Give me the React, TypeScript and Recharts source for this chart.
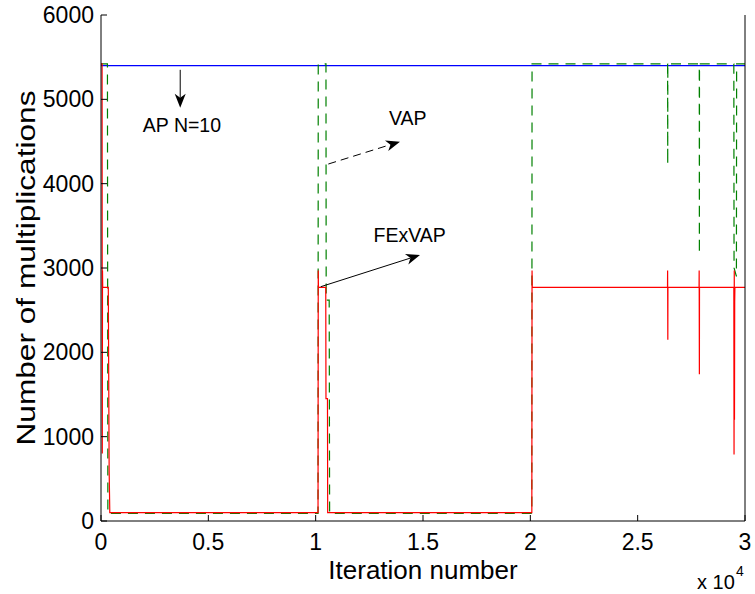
import React from 'react';
import { LineChart, Line, XAxis, YAxis, ReferenceLine, ReferenceDot } from 'recharts';

const FONT = '"Liberation Sans", Arial, Helvetica, sans-serif';

// change points of each curve: iteration number and multiplications per iteration
const apIter = [0, 30000];
const apMults = [5400, 5400];

const vapIter = [0, 300, 320, 10110, 10120, 10480, 10490, 10630, 10650, 20070, 20080, 26395, 26400, 26405, 27870, 27875, 27880, 29480, 29490, 29600, 29610, 30000];
const vapMults = [5420, 5420, 90, 90, 5420, 5420, 2620, 2620, 90, 90, 5420, 5420, 4230, 5420, 5420, 3170, 5420, 5420, 3000, 2900, 5420, 5420];

const fexIter = [0, 50, 60, 70, 80, 340, 380, 410, 10110, 10120, 10130, 10470, 10480, 10550, 10560, 20070, 20080, 20090, 26390, 26395, 26405, 26410, 27860, 27865, 27875, 27880, 29480, 29490, 29500, 29510, 29520, 29530, 30000];
const fexMults = [5420, 5420, 800, 2970, 2770, 2770, 600, 100, 100, 2970, 2770, 2770, 1450, 1450, 100, 100, 2970, 2770, 2770, 2970, 2150, 2770, 2770, 2970, 1740, 2770, 2770, 790, 2970, 1200, 2600, 2770, 2770];

const xTicks = [0, 5000, 10000, 15000, 20000, 25000, 30000];
const yTicks = [0, 1000, 2000, 3000, 4000, 5000, 6000];

// annotations (text + arrow), in data units
const noteText = ['AP N=10', 'VAP', 'FExVAP'];
const noteIter = [3770, 14290, 14380];
const noteMults = [4690, 4780, 3390];
const arrowStart = [[3690, 5350], [10590, 4233], [10234, 2778]];
const arrowEnd = [[3690, 4900], [13928, 4498], [14860, 3154]];
const arrowDashed = [false, true, false];

const toPoints = (xs: number[], ys: number[]) => xs.map((iter, i) => ({ iter, mults: ys[i] }));

const apData = toPoints(apIter, apMults);
const vapData = toPoints(vapIter, vapMults);
const fexData = toPoints(fexIter, fexMults);

function Arrow(props: any) {
  const { x1, y1, x2, y2, dashed } = props;
  const a = Math.atan2(y2 - y1, x2 - x1);
  const c = Math.cos(a);
  const s = Math.sin(a);
  const L = 14;
  const W = 5.5;
  const N = 10;
  const bx = x2 - L * c;
  const by = y2 - L * s;
  const nx = x2 - N * c;
  const ny = y2 - N * s;
  const pts = [
    [x2, y2],
    [bx - W * s, by + W * c],
    [nx, ny],
    [bx + W * s, by - W * c],
  ]
    .map((p) => p.join(','))
    .join(' ');
  return (
    <g>
      <line x1={x1} y1={y1} x2={nx} y2={ny} stroke="#000" strokeWidth={1} strokeDasharray={dashed ? '8 5' : undefined} />
      <polygon points={pts} fill="#000" />
    </g>
  );
}

const YTitle = () => (
  <text
    x={26}
    y={268}
    transform="rotate(-90 26 268)"
    textAnchor="middle"
    dominantBaseline="central"
    fontSize={26}
    fontFamily={FONT}
    fill="#000"
    textLength={355}
    lengthAdjust="spacingAndGlyphs"
  >
    Number of multiplications
  </text>
);

const XTitle = () => (
  <g fontFamily={FONT} fill="#000">
    <text x={423} y={579} textAnchor="middle" fontSize={26}>
      Iteration number
    </text>
    <text x={697} y={589} fontSize={20}>
      x 10
    </text>
    <text x={736} y={576} fontSize={14}>
      4
    </text>
  </g>
);

const tickStyle = { fontSize: 23, fill: '#000', fontFamily: FONT };

export default function App() {
  return (
    <div style={{ position: 'absolute', left: 0, top: 0, background: '#fff' }}>
      <LineChart width={755} height={594} margin={{ top: 15, right: 0, bottom: 0, left: 0 }}>
        <XAxis
          dataKey="iter"
          type="number"
          domain={[0, 30000]}
          ticks={xTicks}
          tickFormatter={(v: number) => String(v / 10000)}
          height={73}
          tickSize={-6}
          tickMargin={19}
          tick={tickStyle}
          stroke="#000"
          allowDataOverflow
          label={<XTitle />}
        />
        <XAxis
          xAxisId="top"
          orientation="top"
          dataKey="iter"
          type="number"
          domain={[0, 30000]}
          ticks={xTicks}
          height={0}
          tickSize={-6}
          tick={false}
          stroke="#000"
        />
        <YAxis
          type="number"
          domain={[0, 6000]}
          ticks={yTicks}
          width={101}
          tickSize={-6}
          tickMargin={13}
          tick={tickStyle}
          stroke="#000"
          allowDataOverflow
          label={<YTitle />}
        />
        <YAxis
          yAxisId="right"
          orientation="right"
          type="number"
          domain={[0, 6000]}
          ticks={yTicks}
          width={10}
          tickSize={-6}
          tick={false}
          stroke="#000"
        />
        <Line data={apData} dataKey="mults" stroke="#0000ff" strokeWidth={1.2} dot={false} activeDot={false} isAnimationActive={false} />
        <Line data={vapData} dataKey="mults" stroke="#008000" strokeWidth={1.2} strokeDasharray="10 7" dot={false} activeDot={false} isAnimationActive={false} />
        <Line data={fexData} dataKey="mults" stroke="#ff0000" strokeWidth={1.2} dot={false} activeDot={false} isAnimationActive={false} />
        {noteText.map((t, i) => (
          <ReferenceLine
            key={`arrow-${t}`}
            segment={[
              { x: arrowStart[i][0], y: arrowStart[i][1] },
              { x: arrowEnd[i][0], y: arrowEnd[i][1] },
            ]}
            shape={(p: any) => <Arrow {...p} dashed={arrowDashed[i]} />}
          />
        ))}
        {noteText.map((t, i) => (
          <ReferenceDot
            key={`note-${t}`}
            x={noteIter[i]}
            y={noteMults[i]}
            r={0}
            fill="none"
            stroke="none"
            label={{ value: t, position: 'center', fontSize: 19.5, fill: '#000', fontFamily: FONT }}
          />
        ))}
      </LineChart>
    </div>
  );
}
